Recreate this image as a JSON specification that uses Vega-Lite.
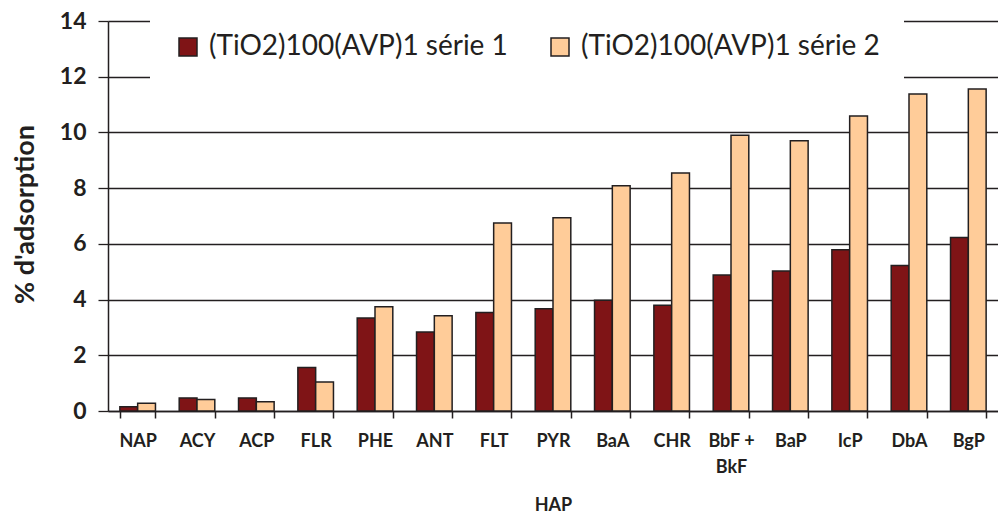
{
  "$schema": "https://vega.github.io/schema/vega-lite/v6.json",
  "width": 890,
  "height": 390,
  "autosize": {"type": "none"},
  "padding": {"left": 108, "top": 21, "right": 0, "bottom": 102},
  "background": "white",
  "config": {
    "view": {"stroke": null},
    "font": "Lato"
  },
  "data": {
    "values": [
      {"HAP": "NAP", "serie": "(TiO2)100(AVP)1 série 1", "value": 0.15},
      {"HAP": "NAP", "serie": "(TiO2)100(AVP)1 série 2", "value": 0.28},
      {"HAP": "ACY", "serie": "(TiO2)100(AVP)1 série 1", "value": 0.47},
      {"HAP": "ACY", "serie": "(TiO2)100(AVP)1 série 2", "value": 0.41},
      {"HAP": "ACP", "serie": "(TiO2)100(AVP)1 série 1", "value": 0.47},
      {"HAP": "ACP", "serie": "(TiO2)100(AVP)1 série 2", "value": 0.33},
      {"HAP": "FLR", "serie": "(TiO2)100(AVP)1 série 1", "value": 1.56},
      {"HAP": "FLR", "serie": "(TiO2)100(AVP)1 série 2", "value": 1.04},
      {"HAP": "PHE", "serie": "(TiO2)100(AVP)1 série 1", "value": 3.34},
      {"HAP": "PHE", "serie": "(TiO2)100(AVP)1 série 2", "value": 3.74},
      {"HAP": "ANT", "serie": "(TiO2)100(AVP)1 série 1", "value": 2.84},
      {"HAP": "ANT", "serie": "(TiO2)100(AVP)1 série 2", "value": 3.42},
      {"HAP": "FLT", "serie": "(TiO2)100(AVP)1 série 1", "value": 3.54},
      {"HAP": "FLT", "serie": "(TiO2)100(AVP)1 série 2", "value": 6.75},
      {"HAP": "PYR", "serie": "(TiO2)100(AVP)1 série 1", "value": 3.67},
      {"HAP": "PYR", "serie": "(TiO2)100(AVP)1 série 2", "value": 6.94},
      {"HAP": "BaA", "serie": "(TiO2)100(AVP)1 série 1", "value": 3.98},
      {"HAP": "BaA", "serie": "(TiO2)100(AVP)1 série 2", "value": 8.09},
      {"HAP": "CHR", "serie": "(TiO2)100(AVP)1 série 1", "value": 3.8},
      {"HAP": "CHR", "serie": "(TiO2)100(AVP)1 série 2", "value": 8.54},
      {"HAP": "BbF + BkF", "serie": "(TiO2)100(AVP)1 série 1", "value": 4.88},
      {"HAP": "BbF + BkF", "serie": "(TiO2)100(AVP)1 série 2", "value": 9.9},
      {"HAP": "BaP", "serie": "(TiO2)100(AVP)1 série 1", "value": 5.03},
      {"HAP": "BaP", "serie": "(TiO2)100(AVP)1 série 2", "value": 9.7},
      {"HAP": "IcP", "serie": "(TiO2)100(AVP)1 série 1", "value": 5.79},
      {"HAP": "IcP", "serie": "(TiO2)100(AVP)1 série 2", "value": 10.59},
      {"HAP": "DbA", "serie": "(TiO2)100(AVP)1 série 1", "value": 5.22},
      {"HAP": "DbA", "serie": "(TiO2)100(AVP)1 série 2", "value": 11.38},
      {"HAP": "BgP", "serie": "(TiO2)100(AVP)1 série 1", "value": 6.23},
      {"HAP": "BgP", "serie": "(TiO2)100(AVP)1 série 2", "value": 11.56}
    ]
  },
  "mark": {"type": "bar", "stroke": "#231F20", "strokeWidth": 1.5},
  "encoding": {
    "x": {
      "field": "HAP",
      "type": "nominal",
      "sort": null,
      "scale": {"paddingInner": 0.4, "paddingOuter": 0.2},
      "axis": {
        "title": "HAP",
        "titleFontSize": 18,
        "titleFontWeight": "bold",
        "titleColor": "#231F20",
        "titlePadding": 20,
        "labelAngle": 0,
        "labelFontSize": 18,
        "labelFontWeight": "bold",
        "labelColor": "#231F20",
        "labelPadding": 14,
        "labelLineHeight": 26,
        "labelExpr": "datum.label == 'BbF + BkF' ? ['BbF +', 'BkF'] : datum.label",
        "tickBand": "extent",
        "tickSize": 7,
        "tickColor": "#231F20",
        "tickWidth": 1.5,
        "domainColor": "#231F20",
        "domainWidth": 1.5
      }
    },
    "xOffset": {"field": "serie", "type": "nominal"},
    "y": {
      "field": "value",
      "type": "quantitative",
      "scale": {"domain": [0, 14]},
      "axis": {
        "title": "% d'adsorption",
        "titleFontSize": 27,
        "titleFontWeight": "bold",
        "titleColor": "#231F20",
        "titleX": -83,
        "titleY": 193,
        "titleBaseline": "middle",
        "values": [0, 2, 4, 6, 8, 10, 12, 14],
        "grid": true,
        "gridColor": "#231F20",
        "gridWidth": 1.3,
        "gridOpacity": 1,
        "tickSize": 10,
        "tickColor": "#231F20",
        "tickWidth": 1.3,
        "domainColor": "#231F20",
        "domainWidth": 1.5,
        "labelFontSize": 23,
        "labelFontWeight": "bold",
        "labelColor": "#231F20",
        "labelPadding": 12
      }
    },
    "fill": {
      "field": "serie",
      "type": "nominal",
      "scale": {"range": ["#7F1416", "#FFCC99"]},
      "legend": {
        "title": null,
        "orient": "none",
        "legendX": 42,
        "legendY": -12,
        "direction": "horizontal",
        "columns": 2,
        "fillColor": "white",
        "padding": 24,
        "columnPadding": 38,
        "symbolType": "square",
        "symbolSize": 324,
        "symbolStrokeColor": "#231F20",
        "symbolStrokeWidth": 1.5,
        "symbolOpacity": 1,
        "labelFontSize": 28,
        "labelFont": "Lato",
        "labelColor": "#231F20",
        "labelOffset": 7,
        "labelLimit": 600
      }
    }
  }
}
